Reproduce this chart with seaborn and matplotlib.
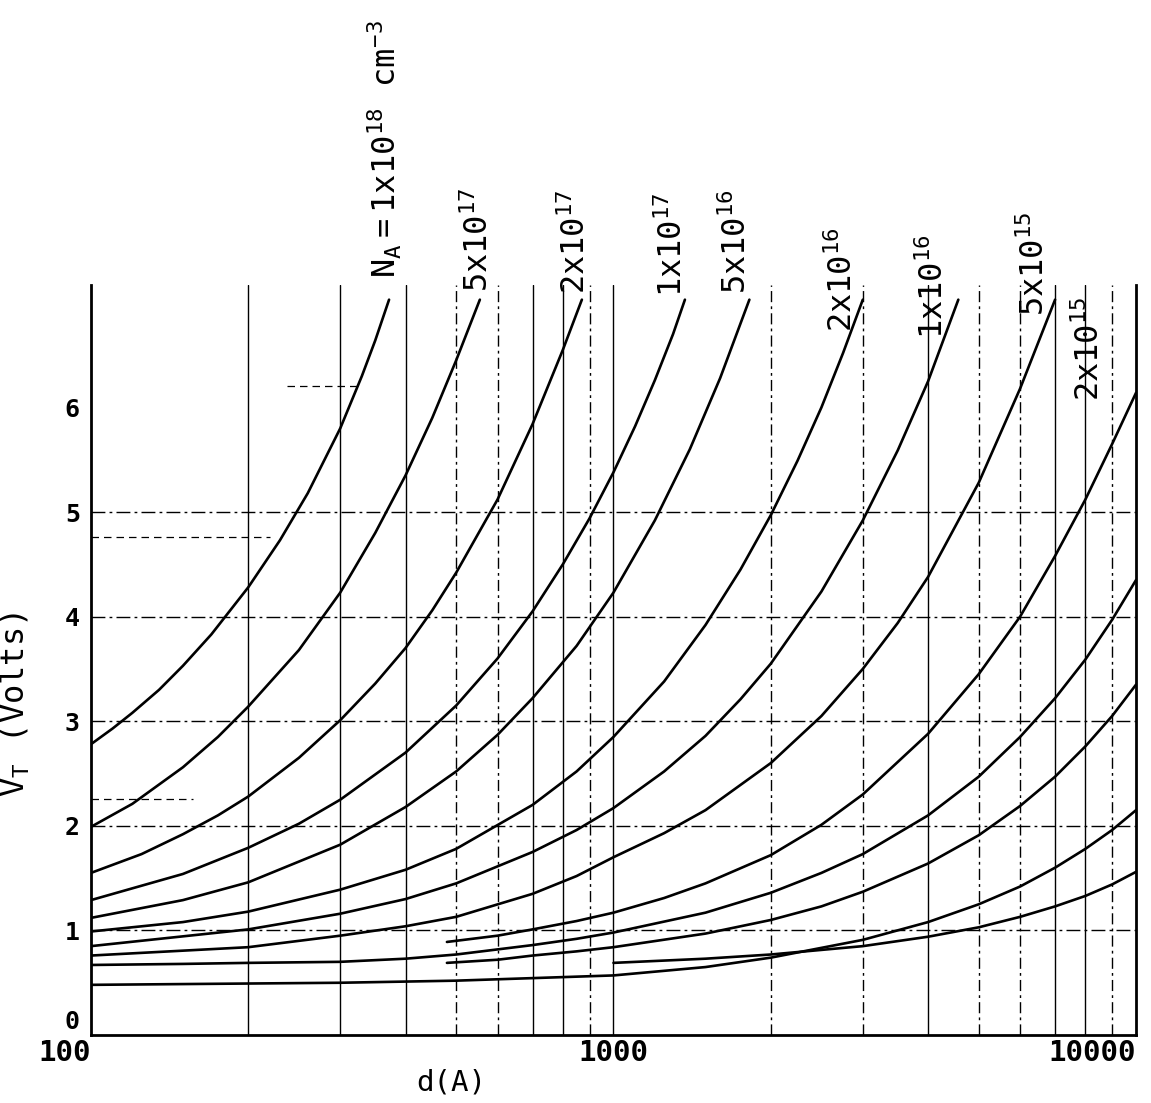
import numpy as np
import pandas as pd
import seaborn as sns
import matplotlib
matplotlib.use("Agg")
import matplotlib.pyplot as plt
from matplotlib.transforms import ScaledTranslation

# threshold voltage vs oxide thickness, one curve per doping N_A
d_1e18 = [100, 110, 120, 135, 150, 170, 200, 230, 260, 300, 330, 350, 372]
v_1e18 = [2.78, 2.93, 3.08, 3.30, 3.53, 3.83, 4.28, 4.73, 5.18, 5.80, 6.30, 6.64, 7.03]
d_5e17 = [100, 120, 150, 175, 200, 250, 300, 350, 400, 450, 500, 555]
v_5e17 = [1.99, 2.21, 2.56, 2.85, 3.14, 3.68, 4.23, 4.80, 5.35, 5.90, 6.45, 7.03]
d_2e17 = [100, 125, 150, 175, 200, 250, 300, 350, 400, 450, 500, 600, 700, 800, 870]
v_2e17 = [1.55, 1.73, 1.92, 2.10, 2.28, 2.65, 3.01, 3.36, 3.70, 4.06, 4.42, 5.12, 5.84, 6.55, 7.03]
d_1e17 = [100, 150, 200, 250, 300, 400, 500, 600, 700, 800, 900, 1000, 1100, 1200, 1300, 1370]
v_1e17 = [1.29, 1.54, 1.79, 2.02, 2.25, 2.70, 3.15, 3.60, 4.05, 4.50, 4.94, 5.38, 5.82, 6.26, 6.70, 7.03]
d_5e16 = [100, 150, 200, 300, 400, 500, 600, 700, 850, 1000, 1200, 1400, 1600, 1820]
v_5e16 = [1.12, 1.29, 1.46, 1.82, 2.18, 2.52, 2.87, 3.22, 3.72, 4.23, 4.92, 5.60, 6.28, 7.03]
d_2e16 = [100, 150, 200, 300, 400, 500, 700, 850, 1000, 1250, 1500, 1750, 2000, 2250, 2500, 2750, 3000]
v_2e16 = [0.99, 1.08, 1.18, 1.39, 1.58, 1.78, 2.20, 2.52, 2.85, 3.38, 3.92, 4.45, 4.97, 5.49, 6.00, 6.52, 7.03]
d_1e16 = [100, 200, 300, 400, 500, 700, 850, 1000, 1250, 1500, 1750, 2000, 2500, 3000, 3500, 4000, 4570]
v_1e16 = [0.85, 1.01, 1.16, 1.30, 1.45, 1.75, 1.96, 2.17, 2.52, 2.86, 3.21, 3.55, 4.24, 4.92, 5.59, 6.25, 7.03]
d_5e15 = [100, 200, 300, 400, 500, 700, 850, 1000, 1250, 1500, 2000, 2500, 3000, 3500, 4000, 5000, 6000, 7000]
v_5e15 = [0.76, 0.84, 0.95, 1.04, 1.13, 1.35, 1.52, 1.70, 1.93, 2.15, 2.60, 3.05, 3.50, 3.94, 4.38, 5.28, 6.18, 7.03]
d_2e15 = [480, 600, 700, 850, 1000, 1250, 1500, 2000, 2500, 3000, 4000, 5000, 6000, 7000, 8000, 9000, 10000]
v_2e15 = [0.89, 0.95, 1.01, 1.09, 1.17, 1.31, 1.45, 1.72, 2.01, 2.30, 2.88, 3.45, 4.00, 4.58, 5.12, 5.65, 6.14]
d_c9 = [100, 150, 200, 300, 400, 500, 700, 850, 1000, 1500, 2000, 2500, 3000, 4000, 5000, 6000, 7000, 8000, 9000, 10000]
v_c9 = [0.67, 0.68, 0.69, 0.70, 0.73, 0.77, 0.86, 0.92, 0.98, 1.17, 1.36, 1.55, 1.73, 2.10, 2.47, 2.85, 3.22, 3.59, 3.97, 4.35]
d_m2 = [480, 600, 700, 850, 1000, 1500, 2000, 2500, 3000, 4000, 5000, 6000, 7000, 8000, 9000, 10000]
v_m2 = [0.69, 0.72, 0.76, 0.80, 0.84, 0.97, 1.10, 1.23, 1.37, 1.64, 1.91, 2.19, 2.47, 2.76, 3.05, 3.35]
d_c10 = [100, 300, 500, 1000, 1500, 2000, 3000, 4000, 5000, 6000, 7000, 8000, 9000, 10000]
v_c10 = [0.48, 0.50, 0.52, 0.57, 0.65, 0.74, 0.91, 1.08, 1.25, 1.42, 1.60, 1.78, 1.96, 2.15]
d_m3 = [1000, 1500, 2000, 3000, 4000, 5000, 6000, 7000, 8000, 9000, 10000]
v_m3 = [0.69, 0.73, 0.77, 0.85, 0.94, 1.03, 1.13, 1.23, 1.33, 1.44, 1.56]

curves = [("1e18", d_1e18, v_1e18), ("5e17", d_5e17, v_5e17), ("2e17", d_2e17, v_2e17),
          ("1e17", d_1e17, v_1e17), ("5e16", d_5e16, v_5e16), ("2e16", d_2e16, v_2e16),
          ("1e16", d_1e16, v_1e16), ("5e15", d_5e15, v_5e15), ("2e15", d_2e15, v_2e15),
          ("c9", d_c9, v_c9), ("m2", d_m2, v_m2), ("c10", d_c10, v_c10), ("m3", d_m3, v_m3)]

# grid of the chart paper
grid_solid = [200, 300, 400, 700, 800, 1000, 4000, 7000, 8000]
grid_dashdot = [500, 600, 900, 2000, 3000, 5000, 6000, 9000]
grid_h = [1, 2, 3, 4, 5]
# short stray ruled dashes on the sheet: (V, d from, d to)
stray_h = [(2.26, 100, 157), (4.76, 100, 220), (6.2, 237, 330)]

# curve labels (text, d, V at foot of label)
labels = [(r"$\mathtt{N_A{=}1x10^{18}\ \ cm^{-3}}$", 366, 7.24),
          (r"$\mathtt{5x10^{17}}$", 552, 7.10),
          (r"$\mathtt{2x10^{17}}$", 845, 7.08),
          (r"$\mathtt{1x10^{17}}$", 1300, 7.06),
          (r"$\mathtt{5x10^{16}}$", 1720, 7.08),
          (r"$\mathtt{2x10^{16}}$", 2750, 6.72),
          (r"$\mathtt{1x10^{16}}$", 4100, 6.65),
          (r"$\mathtt{5x10^{15}}$", 6400, 6.87),
          (r"$\mathtt{2x10^{15}}$", 8150, 6.06)]

rows = []
for name, d, v in curves:
    for x, y in zip(d, v):
        rows.append({"curve": name, "d": x, "V": y})
df = pd.DataFrame(rows)

sns.set_style("white")
plt.rcParams["font.family"] = ["DejaVu Sans Mono", "DejaVu Sans"]
plt.rcParams["mathtext.fontset"] = "dejavusans"
plt.rcParams["text.color"] = "black"
plt.rcParams["axes.labelcolor"] = "black"
plt.rcParams["xtick.color"] = "black"
plt.rcParams["ytick.color"] = "black"

fig = plt.figure(figsize=(11.51, 11.03), dpi=100)
ax = fig.add_axes([0.079, 0.0616, 0.908, 0.680])

for g in grid_solid:
    ax.axvline(g, color="black", lw=1.0, zorder=1)
for g in grid_dashdot:
    ax.axvline(g, color="black", lw=1.0, ls=(0, (8, 3, 2, 3)), zorder=1)
for g in grid_h:
    ax.axhline(g, color="black", lw=1.0, ls=(0, (10, 3, 2, 3)), zorder=1)
for y, x0, x1 in stray_h:
    ax.hlines(y, x0, x1, color="black", lw=0.9, ls=(0, (6, 4)), zorder=1)

sns.lineplot(data=df, x="d", y="V", hue="curve", units="curve", estimator=None,
             palette={c[0]: "black" for c in curves}, sort=False, legend=False,
             lw=1.9, ax=ax, zorder=3)

ax.set_xscale("log")
ax.set_xlim(100, 10000)
ax.set_ylim(0, 7.17)
for s in ax.spines.values():
    s.set_linewidth(2.0)
    s.set_color("black")
ax.spines["top"].set_visible(False)

ax.set_yticks(range(7))
ax.set_yticklabels([str(i) for i in range(7)], fontsize=18, fontweight="bold")
ax.set_xticks([100, 1000, 10000])
ax.set_xticklabels(["100", "1000", "10000"], fontsize=21, fontweight="bold")
ax.get_xticklabels()[0].set_ha("right")
ax.get_xticklabels()[2].set_ha("right")
ax.tick_params(which="both", length=0)
ax.tick_params(axis="y", pad=8)
ax.tick_params(axis="x", pad=3)
ax.minorticks_off()
# the "0" sits a little above the corner on the scan
zero = ax.get_yticklabels()[0]
zero.set_transform(zero.get_transform() + ScaledTranslation(0, 0.16, fig.dpi_scale_trans))

ax.set_xlabel("d(A)", fontsize=21)
ax.xaxis.set_label_coords(0.345, -0.045)
ax.set_ylabel(r"$\mathtt{V_T\ \ (Volts)}$", fontsize=23)
ax.yaxis.set_label_coords(-0.056, 0.44)

for txt, x, y in labels:
    ax.text(x, y, txt, rotation=90, ha="center", va="bottom", fontsize=23,
            clip_on=False)

fig.savefig("out.png", dpi=100)
